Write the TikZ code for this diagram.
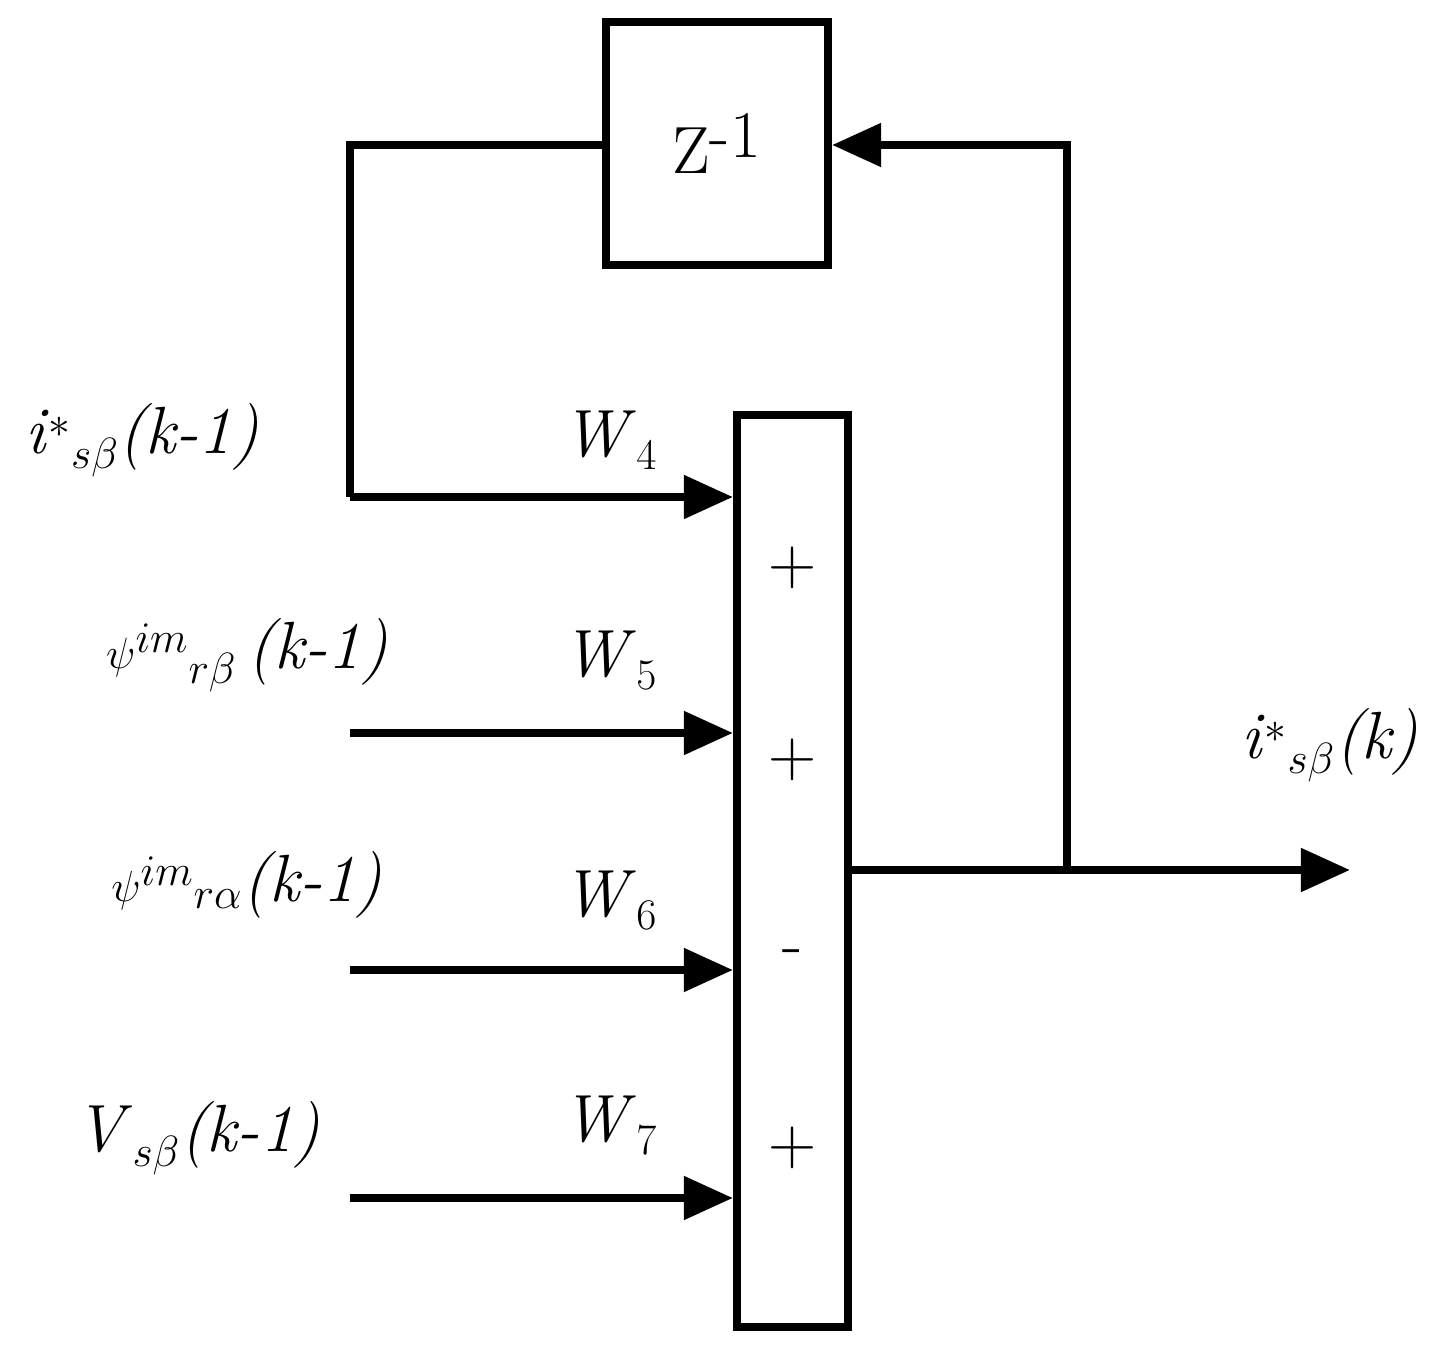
\documentclass[tikz,border=0pt]{standalone}
\usetikzlibrary{arrows.meta}
\begin{document}
\begin{tikzpicture}[x=0.02cm,y=-0.02cm,
  ln/.style={line width=4.6pt},
  arr/.style={ln,-{Triangle[length=28pt,width=24pt]}},
  txt/.style={font=\fontsize{38}{44}\selectfont,inner sep=0pt},
  sgn/.style={font=\fontsize{38}{44}\selectfont,inner sep=0pt}]
\useasboundingbox (0,0) rectangle (1438,1354);
\node[draw,ln,minimum width=222*0.02cm,minimum height=243*0.02cm,txt] (z) at (717,143.5) {Z$^{\textrm{-1}}$};
\node[draw,ln,minimum width=111*0.02cm,minimum height=912*0.02cm] (s) at (792.5,871) {};
\coordinate (fb1) at (350,145);
\coordinate (fb2) at (350,497);
\coordinate (in4) at (s.west |- fb2);
\coordinate (a5) at (350,733); \coordinate (in5) at (s.west |- a5);
\coordinate (a6) at (350,970); \coordinate (in6) at (s.west |- a6);
\coordinate (a7) at (350,1198); \coordinate (in7) at (s.west |- a7);
\coordinate (o0) at (s.east |- 0,870);
\coordinate (br) at (1067,870);
\coordinate (out) at (1350,870);
\coordinate (bt) at (1067,145);
\draw[ln] (z.west |- fb1) -- (fb1) -- (fb2);
\draw[arr] (fb2) -- (in4);
\draw[arr] (a5) -- (in5);
\draw[arr] (a6) -- (in6);
\draw[arr] (a7) -- (in7);
\draw[arr] (o0) -- (out);
\draw[arr] (br) -- (bt) -- (z.east |- bt);
\node[txt] (w4) at (610,440) {\textit{W}$_{4}$};
\node[txt] (w5) at (610,660) {\textit{W}$_{5}$};
\node[txt] (w6) at (610,900) {\textit{W}$_{6}$};
\node[txt] (w7) at (610,1125) {\textit{W}$_{7}$};
\node[sgn] (p1) at (793,568) {+};
\node[sgn] (p2) at (793,760) {+};
\node[sgn] (p3) at (793,958) {-};
\node[sgn] (p4) at (793,1148) {+};
\node[txt] (l1) at (142,440) {\textit{i}$^{*}{}_{s\beta}$\textit{(k-1)}};
\node[txt] (l2) at (247,655) {$\psi^{im}{}_{r\beta}$\,\textit{(k-1)}};
\node[txt] (l3) at (247,885) {$\psi^{im}{}_{r\alpha}$\textit{(k-1)}};
\node[txt] (l4) at (198,1138) {\textit{V}$_{s\beta}$\textit{(k-1)}};
\node[txt] (l5) at (1330,745) {\textit{i}$^{*}{}_{s\beta}$\textit{(k)}};
\end{tikzpicture}
\end{document}
